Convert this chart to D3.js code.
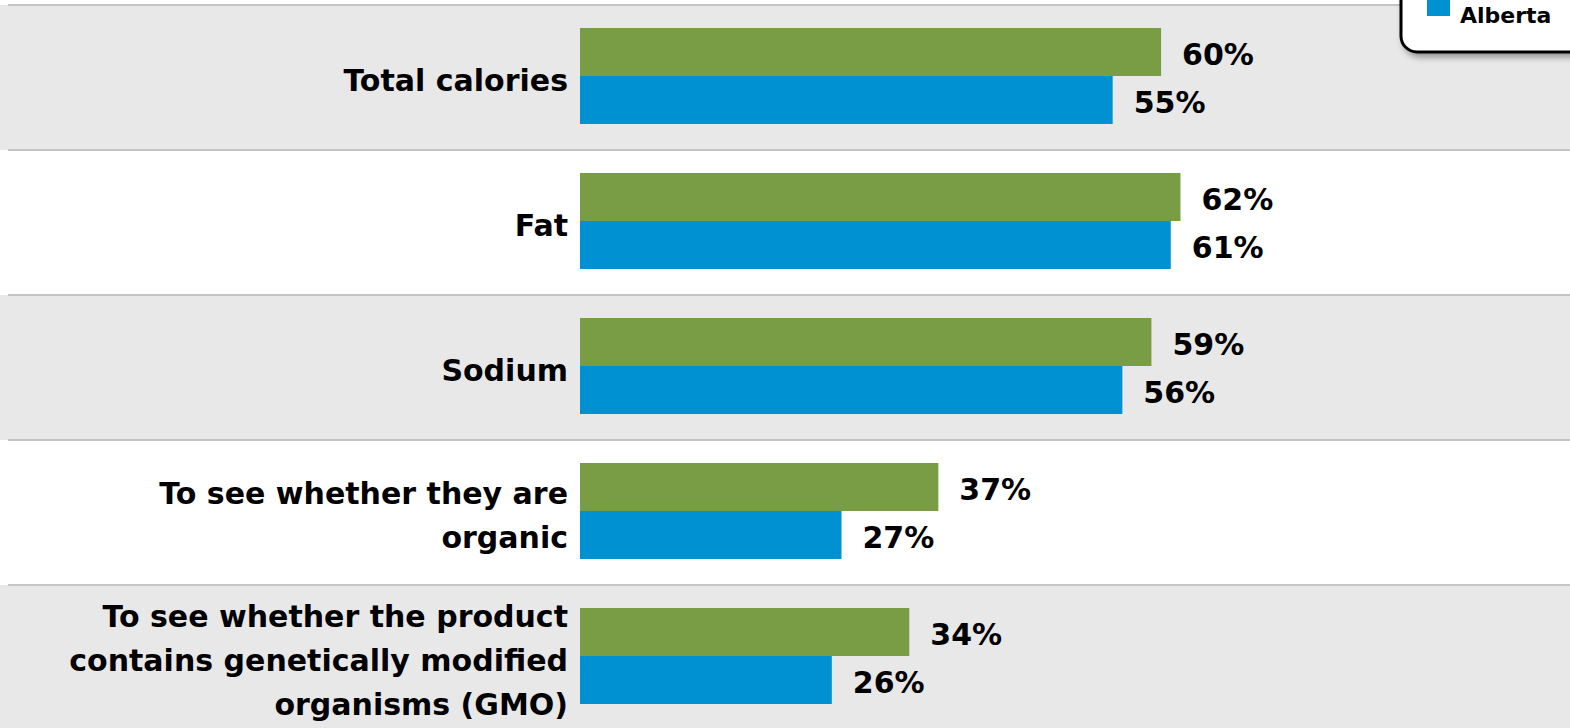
<!DOCTYPE html>
<html><head><meta charset="utf-8">
<script src="https://cdn.jsdelivr.net/npm/d3@7"></script>
<style>
html,body{margin:0;padding:0;background:#fff;}
svg{display:block;}
text{font-family:"DejaVu Sans",sans-serif;font-weight:bold;fill:#000;}
</style></head>
<body>
<svg id="chart" width="1570" height="728"></svg>
<script>
const categories = [
  ["Total calories"],
  ["Fat"],
  ["Sodium"],
  ["To see whether they are", "organic"],
  ["To see whether the product", "contains genetically modified", "organisms (GMO)"]
];
const seriesNames = ["Canada", "Alberta"];
const seriesColors = ["#789d44", "#0091d3"];
const canadaValues = [60, 62, 59, 37, 34];
const albertaValues = [55, 61, 56, 27, 26];

const svg = d3.select("#chart");
const W = 1570, H = 728;
const ids = categories.map((c,i)=>i);

const y0 = d3.scaleBand().domain(ids).range([5, 730]).paddingInner(0);
const step = y0.step();
const y1 = d3.scaleBand().domain(seriesNames).range([(step-96)/2-1.5, (step-96)/2-1.5+96]);
const x = d3.scaleLinear().domain([0, 100]).range([580, 580 + 968.5]);

// row backgrounds
svg.selectAll("rect.row").data(ids).enter().append("rect")
  .attr("x", 0).attr("y", d=>y0(d)).attr("width", W).attr("height", step)
  .attr("fill", d=> d%2===0 ? "#e8e8e8" : "#ffffff");
// separators
svg.selectAll("line.sep").data(ids).enter().append("line")
  .attr("x1", 8).attr("x2", W).attr("y1", d=>y0(d)).attr("y2", d=>y0(d))
  .attr("stroke", "#c4c4c4").attr("stroke-width", 2);

const rows = svg.selectAll("g.rowg").data(ids).enter().append("g")
  .attr("transform", d=>`translate(0,${y0(d)})`);

const vals = [canadaValues, albertaValues];
seriesNames.forEach((s, si) => {
  rows.append("rect")
    .attr("x", x(0))
    .attr("y", y1(s))
    .attr("width", d=> x(vals[si][d]) - x(0))
    .attr("height", y1.bandwidth())
    .attr("fill", seriesColors[si]);
  rows.append("text")
    .attr("x", d=> x(vals[si][d]) + 21)
    .attr("y", y1(s) + y1.bandwidth()/2 + 2)
    .attr("dominant-baseline", "central")
    .attr("font-size", 30)
    .text(d=> vals[si][d] + "%");
});

// category labels
rows.each(function(d){
  const g = d3.select(this);
  const lines = categories[d];
  const lh = 44;
  const cy = y1.range()[0] + 48 + 4;
  const t = g.append("text").attr("text-anchor", "end").attr("font-size", 30);
  lines.forEach((ln, li) => {
    t.append("tspan").attr("x", 568)
     .attr("y", cy + (li - (lines.length-1)/2) * lh)
     .attr("dominant-baseline", "central")
     .text(ln);
  });
});

// legend (partially off-canvas)
const defs = svg.append("defs");
const f = defs.append("filter").attr("id","sh").attr("x","-20%").attr("y","-20%").attr("width","140%").attr("height","160%");
f.append("feDropShadow").attr("dx",3).attr("dy",4).attr("stdDeviation",3).attr("flood-color","#000").attr("flood-opacity",0.35);
const lg = svg.append("g");
lg.append("rect").attr("x", 1401).attr("y", -60).attr("width", 220).attr("height", 112)
  .attr("rx", 16).attr("fill", "#fff").attr("stroke", "#000").attr("stroke-width", 3)
  .attr("filter", "url(#sh)");
lg.append("rect").attr("x", 1427).attr("y", -6).attr("width", 23).attr("height", 22).attr("fill", seriesColors[1]);
lg.append("text").attr("x", 1460).attr("y", 23).attr("font-size", 22).text(seriesNames[1]);
</script>
</body></html>
